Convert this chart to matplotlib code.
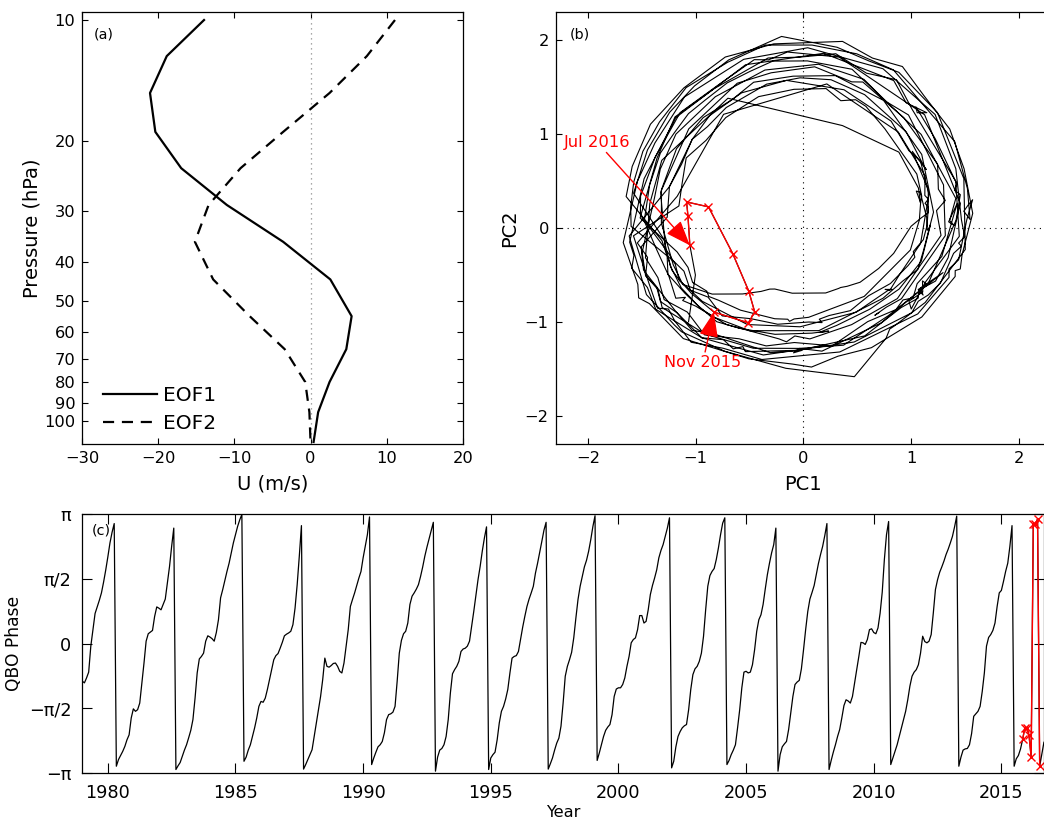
import numpy as np
import matplotlib
matplotlib.use("Agg")
import matplotlib.pyplot as plt
from matplotlib.ticker import NullLocator

# (a) EOF profiles of zonal wind
pressure = [10, 12.3, 15.2, 19.0, 23.4, 28.9, 35.7, 44.3, 54.7, 66.1, 79.8, 94.9, 112.6]
eof1 = [-14.0, -18.9, -21.1, -20.4, -17.0, -11.0, -3.6, 2.6, 5.4, 4.7, 2.5, 1.0, 0.4]
eof2 = [11.1, 7.4, 2.5, -3.6, -9.2, -13.4, -15.2, -12.8, -8.0, -3.4, -0.7, -0.15, 0.0]

# monthly QBO phase (rad) and amplitude, Jan 1979 onwards, one row per cycle
start_year = 1979
qbo_phase = [
    -0.91, -0.95, -0.83, -0.69, -0.06, 0.34, 0.73, 0.89, 1.05, 1.23, 1.49, 1.78, 2.10, 2.44, 2.70, 2.91,
    -2.97, -2.81, -2.71, -2.61, -2.49, -2.33, -2.21, -1.80, -1.58, -1.64, -1.60, -1.44, -0.95, -0.47,
    0.06, 0.24, 0.28, 0.32, 0.66, 0.89, 0.86, 0.82, 0.95, 1.08, 1.47, 1.87, 2.36, 2.80,
    -3.05, -2.96, -2.88, -2.73, -2.58, -2.45, -2.28, -2.10, -1.84, -1.32, -0.71, -0.37, -0.31, -0.23,
    0.06, 0.19, 0.16, 0.12, 0.06, 0.27, 0.58, 1.11, 1.31, 1.53, 1.75, 1.95, 2.20, 2.44, 2.64, 2.84, 3.00, 3.13,
    -2.85, -2.75, -2.58, -2.45, -2.25, -2.04, -1.80, -1.52, -1.40, -1.42, -1.32, -1.11, -0.87, -0.63,
    -0.39, -0.29, -0.24, -0.11, 0.03, 0.19, 0.23, 0.26, 0.30, 0.46, 0.86, 1.43, 2.12, 2.86,
    -3.04, -2.93, -2.81, -2.69, -2.57, -2.25, -1.92, -1.60, -1.28, -0.87, -0.35, -0.55, -0.57, -0.53,
    -0.48, -0.47, -0.55, -0.67, -0.71, -0.47, -0.06, 0.34, 0.90, 1.07, 1.23, 1.41, 1.59, 1.75, 2.08, 2.36, 2.64, 3.07,
    -2.93, -2.77, -2.63, -2.50, -2.45, -2.37, -2.16, -1.84, -1.72, -1.70, -1.66, -1.52, -0.91, -0.23,
    0.08, 0.24, 0.30, 0.50, 0.95, 1.15, 1.23, 1.32, 1.43, 1.63, 1.86, 2.12, 2.34, 2.54, 2.75, 2.94,
    -3.09, -2.75, -2.58, -2.54, -2.45, -2.25, -1.84, -1.20, -0.73, -0.63, -0.55, -0.43, -0.19, -0.13,
    -0.11, -0.06, 0.06, 0.42, 0.78, 1.16, 1.55, 1.87, 2.24, 2.56, 2.83,
    -3.05, -2.77, -2.69, -2.63, -2.33, -1.92, -1.64, -1.52, -1.34, -1.11, -0.71, -0.35, -0.31, -0.29,
    -0.19, 0.10, 0.40, 0.66, 0.90, 1.08, 1.23, 1.39, 1.71, 1.95, 2.21, 2.48, 2.75, 2.94,
    -3.04, -2.91, -2.77, -2.58, -2.41, -2.29, -2.00, -1.44, -0.79, -0.55, -0.39, -0.21,
    0.14, 0.62, 1.07, 1.39, 1.63, 1.86, 2.02, 2.24, 2.52, 2.84, 3.10,
    -2.83, -2.65, -2.45, -2.25, -2.10, -2.02, -1.96, -1.72, -1.28, -1.10, -1.07, -1.07, -0.99, -0.83, -0.55, -0.31,
    0.02, 0.10, 0.14, 0.34, 0.68, 0.68, 0.50, 0.54, 0.82, 1.19, 1.41, 1.59, 1.79, 2.08, 2.26, 2.40, 2.60, 2.80, 3.05,
    -3.01, -2.85, -2.50, -2.25, -2.13, -2.04, -1.99, -1.96, -1.60, -1.11, -0.75, -0.61, -0.55, -0.43, -0.23,
    0.18, 0.82, 1.39, 1.65, 1.75, 1.82, 2.04, 2.32, 2.64, 2.92, 3.05,
    -2.93, -2.83, -2.69, -2.58, -2.45, -2.04, -1.60, -1.07, -0.69, -0.67, -0.71, -0.69, -0.51, -0.15,
    0.30, 0.58, 0.70, 0.95, 1.32, 1.67, 1.95, 2.20, 2.40, 2.80,
    -3.09, -2.69, -2.50, -2.43, -2.37, -2.08, -1.68, -1.28, -0.99, -0.93, -0.89, -0.61, -0.15,
    0.34, 0.78, 1.08, 1.24, 1.41, 1.67, 1.94, 2.16, 2.36, 2.62, 2.91,
    -3.05, -2.83, -2.63, -2.45, -2.25, -2.08, -1.80, -1.50, -1.36, -1.39, -1.44, -1.28, -0.95, -0.63, -0.31,
    0.03, 0.02, -0.02, 0.10, 0.34, 0.36, 0.27, 0.24, 0.38, 0.74, 1.25, 2.04, 2.64, 2.96,
    -2.93, -2.77, -2.61, -2.45, -2.25, -2.04, -1.84, -1.64, -1.36, -1.03, -0.79, -0.69, -0.63, -0.51, -0.23,
    0.18, 0.05, 0.02, 0.06, 0.22, 0.74, 1.31, 1.55, 1.73, 1.86, 2.00, 2.16, 2.29, 2.44, 2.60, 2.83, 3.09,
    -2.97, -2.75, -2.58, -2.55, -2.54, -2.45, -2.18, -1.76, -1.70, -1.64, -1.52, -1.16, -0.71,
    -0.06, 0.15, 0.22, 0.32, 0.50, 0.90, 1.23, 1.29, 1.51, 1.75, 1.95, 2.36, 2.86,
    -2.97, -2.79, -2.71, -2.55, -2.32, -2.04, -2.04, -2.22, -2.75, 2.89, 2.89, 3.02, -2.97, -2.68, -2.39,
]
qbo_amp = [
    1.14, 1.14, 1.14, 1.18, 1.32, 1.38, 1.45, 1.55, 1.55, 1.68, 1.75, 1.72, 1.62, 1.55, 1.47, 1.42,
    1.52, 1.55, 1.50, 1.54, 1.48, 1.50, 1.40, 1.36, 1.30, 1.33, 1.28, 1.32, 1.24, 1.30,
    1.42, 1.50, 1.46, 1.50, 1.55, 1.66, 1.62, 1.68, 1.64, 1.78, 1.87, 1.82, 1.67, 1.57,
    1.62, 1.60, 1.65, 1.58, 1.62, 1.55, 1.60, 1.48, 1.45, 1.36, 1.40, 1.45, 1.42, 1.48,
    1.52, 1.60, 1.55, 1.50, 1.55, 1.58, 1.68, 1.88, 1.92, 1.95, 1.98, 1.90, 1.85, 1.75, 1.70, 1.65, 1.62, 1.60,
    1.25, 1.20, 1.24, 1.15, 1.20, 1.08, 1.05, 1.00, 1.02, 0.98, 0.96, 0.98, 0.94, 1.00,
    1.05, 1.08, 1.05, 1.12, 1.15, 1.18, 1.16, 1.20, 1.18, 1.26, 1.35, 1.55, 1.42, 1.22,
    1.55, 1.48, 1.55, 1.50, 1.56, 1.45, 1.36, 1.28, 1.30, 1.22, 1.38, 1.25, 1.32, 1.26,
    1.30, 1.24, 1.30, 1.25, 1.32, 1.27, 1.45, 1.50, 1.62, 1.80, 1.75, 1.88, 1.82, 1.84, 1.70, 1.68, 1.55, 1.52,
    1.20, 1.15, 1.18, 1.12, 1.14, 1.10, 1.05, 1.00, 0.98, 1.00, 0.97, 0.95, 0.92, 1.02,
    1.08, 1.12, 1.15, 1.20, 1.30, 1.42, 1.45, 1.40, 1.50, 1.48, 1.46, 1.38, 1.30, 1.32, 1.22, 1.18,
    1.58, 1.55, 1.60, 1.52, 1.55, 1.50, 1.40, 1.30, 1.35, 1.32, 1.36, 1.40, 1.42, 1.48,
    1.45, 1.50, 1.47, 1.55, 1.72, 1.85, 1.92, 1.88, 1.78, 1.65, 1.62,
    1.68, 1.65, 1.70, 1.64, 1.62, 1.48, 1.45, 1.48, 1.40, 1.42, 1.45, 1.50, 1.48, 1.52,
    1.50, 1.58, 1.62, 1.72, 1.80, 1.95, 1.92, 2.02, 1.98, 1.96, 1.86, 1.80, 1.72, 1.68,
    1.32, 1.30, 1.35, 1.30, 1.28, 1.26, 1.20, 1.10, 1.05, 1.08, 1.15, 1.14,
    1.22, 1.35, 1.55, 1.65, 1.62, 1.62, 1.52, 1.50, 1.45, 1.38, 1.32,
    1.27, 1.27, 1.10, 0.90, 0.78, 0.72, 0.70, 0.70, 0.72, 0.72, 0.72, 0.72, 0.74, 0.78, 0.82, 0.88,
    1.00, 1.10, 1.17, 1.23, 1.30, 1.30, 1.30, 1.30, 1.40, 1.53, 1.60, 1.60, 1.57, 1.47, 1.40, 1.40, 1.32, 1.32, 1.27,
    1.52, 1.55, 1.48, 1.50, 1.40, 1.44, 1.38, 1.42, 1.30, 1.28, 1.24, 1.30, 1.26, 1.35, 1.38,
    1.48, 1.65, 1.85, 1.88, 1.82, 1.85, 1.72, 1.68, 1.57, 1.55, 1.52,
    1.28, 1.25, 1.28, 1.24, 1.22, 1.15, 1.05, 1.02, 1.03, 1.05, 1.00, 1.04, 1.02, 1.10,
    1.22, 1.30, 1.28, 1.40, 1.52, 1.58, 1.55, 1.48, 1.40, 1.32,
    1.62, 1.62, 1.58, 1.58, 1.58, 1.50, 1.50, 1.65, 1.40, 1.34, 1.34, 1.38, 1.52,
    1.58, 1.75, 1.88, 1.88, 1.95, 2.05, 1.92, 1.82, 1.75, 1.67, 1.62,
    1.30, 1.30, 1.30, 1.28, 1.28, 1.22, 1.16, 1.12, 1.12, 1.12, 1.12, 1.08, 1.06, 1.10, 1.15,
    1.18, 1.18, 1.15, 1.15, 1.15, 1.12, 1.12, 1.12, 1.15, 1.20, 1.15, 1.55, 1.50, 1.45,
    1.50, 1.45, 1.50, 1.40, 1.46, 1.32, 1.30, 1.22, 1.28, 1.16, 1.22, 1.20, 1.26, 1.21, 1.32,
    1.45, 1.35, 1.40, 1.36, 1.45, 1.48, 1.75, 1.78, 1.80, 1.74, 1.70, 1.64, 1.62, 1.57, 1.55, 1.50, 1.48,
    1.38, 1.35, 1.40, 1.32, 1.36, 1.30, 1.25, 1.20, 1.22, 1.15, 1.18, 1.12, 1.15,
    1.28, 1.25, 1.35, 1.32, 1.42, 1.50, 1.65, 1.62, 1.72, 1.68, 1.66, 1.50, 1.38,
    1.30, 1.30, 1.28, 1.25, 1.22, 1.13, 1.00, 0.84, 0.71, 0.91, 1.12, 1.08, 1.07, 1.12, 1.46,
]

# disrupted months: Nov 2015 .. Jul 2016
i_nov15 = (2015 - start_year) * 12 + 10
i_jul16 = (2016 - start_year) * 12 + 6

phase = np.array(qbo_phase)
amp = np.array(qbo_amp)
pc1 = amp * np.cos(phase)
pc2 = amp * np.sin(phase)
years = start_year + np.arange(len(phase)) / 12.0
red = slice(i_nov15, i_jul16 + 1)

W, H = 1044, 825
fig = plt.figure(figsize=(W / 100, H / 100), dpi=100)


def px_axes(left, top, right, bottom):
    return fig.add_axes([left / W, 1 - bottom / H, (right - left) / W, (bottom - top) / H])


ax_a = px_axes(82.3, 12, 462.7, 444.3)
ax_b = px_axes(555.7, 12, 555.7 + 4.6 * 107.7, 444.3)
ax_c = px_axes(82.3, 514, 82.3 + 37.66 * 25.53, 773.3)

for ax in (ax_a, ax_b, ax_c):
    for s in ax.spines.values():
        s.set_linewidth(0.9)

# ---- (a)
ax_a.axvline(0, color="0.55", ls=(0, (1, 3)), lw=0.9)
ax_a.plot(eof1, pressure, color="k", lw=1.6, label="EOF1")
ax_a.plot(eof2, pressure, color="k", lw=1.6, ls=(0, (5, 3.5)), label="EOF2")
ax_a.set_yscale("log")
ax_a.set_ylim(114.1, 9.55)
ax_a.set_xlim(-30, 20)
ax_a.set_yticks([10, 20, 30, 40, 50, 60, 70, 80, 90, 100])
ax_a.set_yticklabels(["10", "20", "30", "40", "50", "60", "70", "80", "90", "100"])
ax_a.yaxis.set_minor_locator(NullLocator())
ax_a.set_xticks([-30, -20, -10, 0, 10, 20])
ax_a.set_xticklabels(["\u221230", "\u221220", "\u221210", "0", "10", "20"])
ax_a.set_xlabel("U (m/s)", fontsize=14, labelpad=6)
ax_a.set_ylabel("Pressure (hPa)", fontsize=14, labelpad=2)
ax_a.text(0.031, 0.947, "(a)", transform=ax_a.transAxes, fontsize=10.3, va="center")
ax_a.legend(loc="lower left", bbox_to_anchor=(0.054, 0.026), frameon=False, fontsize=14.5,
            handlelength=2.7, handletextpad=0.3, labelspacing=0.45, borderpad=0, borderaxespad=0)

# ---- (b)
ax_b.axhline(0, color="k", ls=(0, (1, 4)), lw=0.8)
ax_b.axvline(0, color="k", ls=(0, (1, 4)), lw=0.8)
ax_b.plot(pc1, pc2, color="k", lw=0.8)
ax_b.plot(pc1[red], pc2[red], color="red", lw=1.0, marker="x", ms=6, mew=1.0)
ax_b.set_xlim(-2.3, 2.3)
ax_b.set_ylim(-2.3, 2.3)
ax_b.set_xticks([-2, -1, 0, 1, 2])
ax_b.set_yticks([-2, -1, 0, 1, 2])
ax_b.set_xticklabels(["\u22122", "\u22121", "0", "1", "2"])
ax_b.set_yticklabels(["\u22122", "\u22121", "0", "1", "2"])
ax_b.set_xlabel("PC1", fontsize=14, labelpad=6)
ax_b.set_ylabel("PC2", fontsize=14, labelpad=4)
ax_b.text(0.029, 0.947, "(b)", transform=ax_b.transAxes, fontsize=10.3, va="center")
arrow = dict(arrowstyle="-|>,head_length=1.1,head_width=0.42", color="red", lw=1.0,
             shrinkA=0, shrinkB=0, mutation_scale=14)
ax_b.annotate("Jul 2016", xy=(pc1[i_jul16], pc2[i_jul16]), xytext=(-1.915, 0.915),
              color="red", fontsize=11.8, ha="center", va="center", arrowprops=arrow)
ax_b.annotate("Nov 2015", xy=(pc1[i_nov15], pc2[i_nov15]), xytext=(-0.934, -1.427),
              color="red", fontsize=11.5, ha="center", va="center", arrowprops=arrow)

# ---- (c)
ax_c.plot(years, phase, color="k", lw=0.9)
ax_c.plot(years[red], phase[red], color="red", lw=1.0, marker="x", ms=6, mew=1.0)
ax_c.set_xlim(1979, 2016.66)
ax_c.set_ylim(-np.pi, np.pi)
ax_c.set_xticks(range(1980, 2016, 5))
ax_c.set_yticks([-np.pi, -np.pi / 2, 0, np.pi / 2, np.pi])
ax_c.set_yticklabels(["\u2212\u03c0", "\u2212\u03c0/2", "0", "\u03c0/2", "\u03c0"])
ax_c.set_xlabel("Year", fontsize=11.6, labelpad=2)
ax_c.set_ylabel("QBO Phase", fontsize=12.3, labelpad=4)
ax_c.text(0.0098, 0.938, "(c)", transform=ax_c.transAxes, fontsize=10.3, va="center")

for ax in (ax_a, ax_b):
    ax.tick_params(direction="in", top=True, right=True, length=4.5, width=0.8,
                   labelsize=11.7, pad=5)
ax_c.tick_params(direction="in", top=True, right=True, length=7, width=0.8,
                 labelsize=12.7, pad=8)

fig.savefig("out.png", dpi=100)
